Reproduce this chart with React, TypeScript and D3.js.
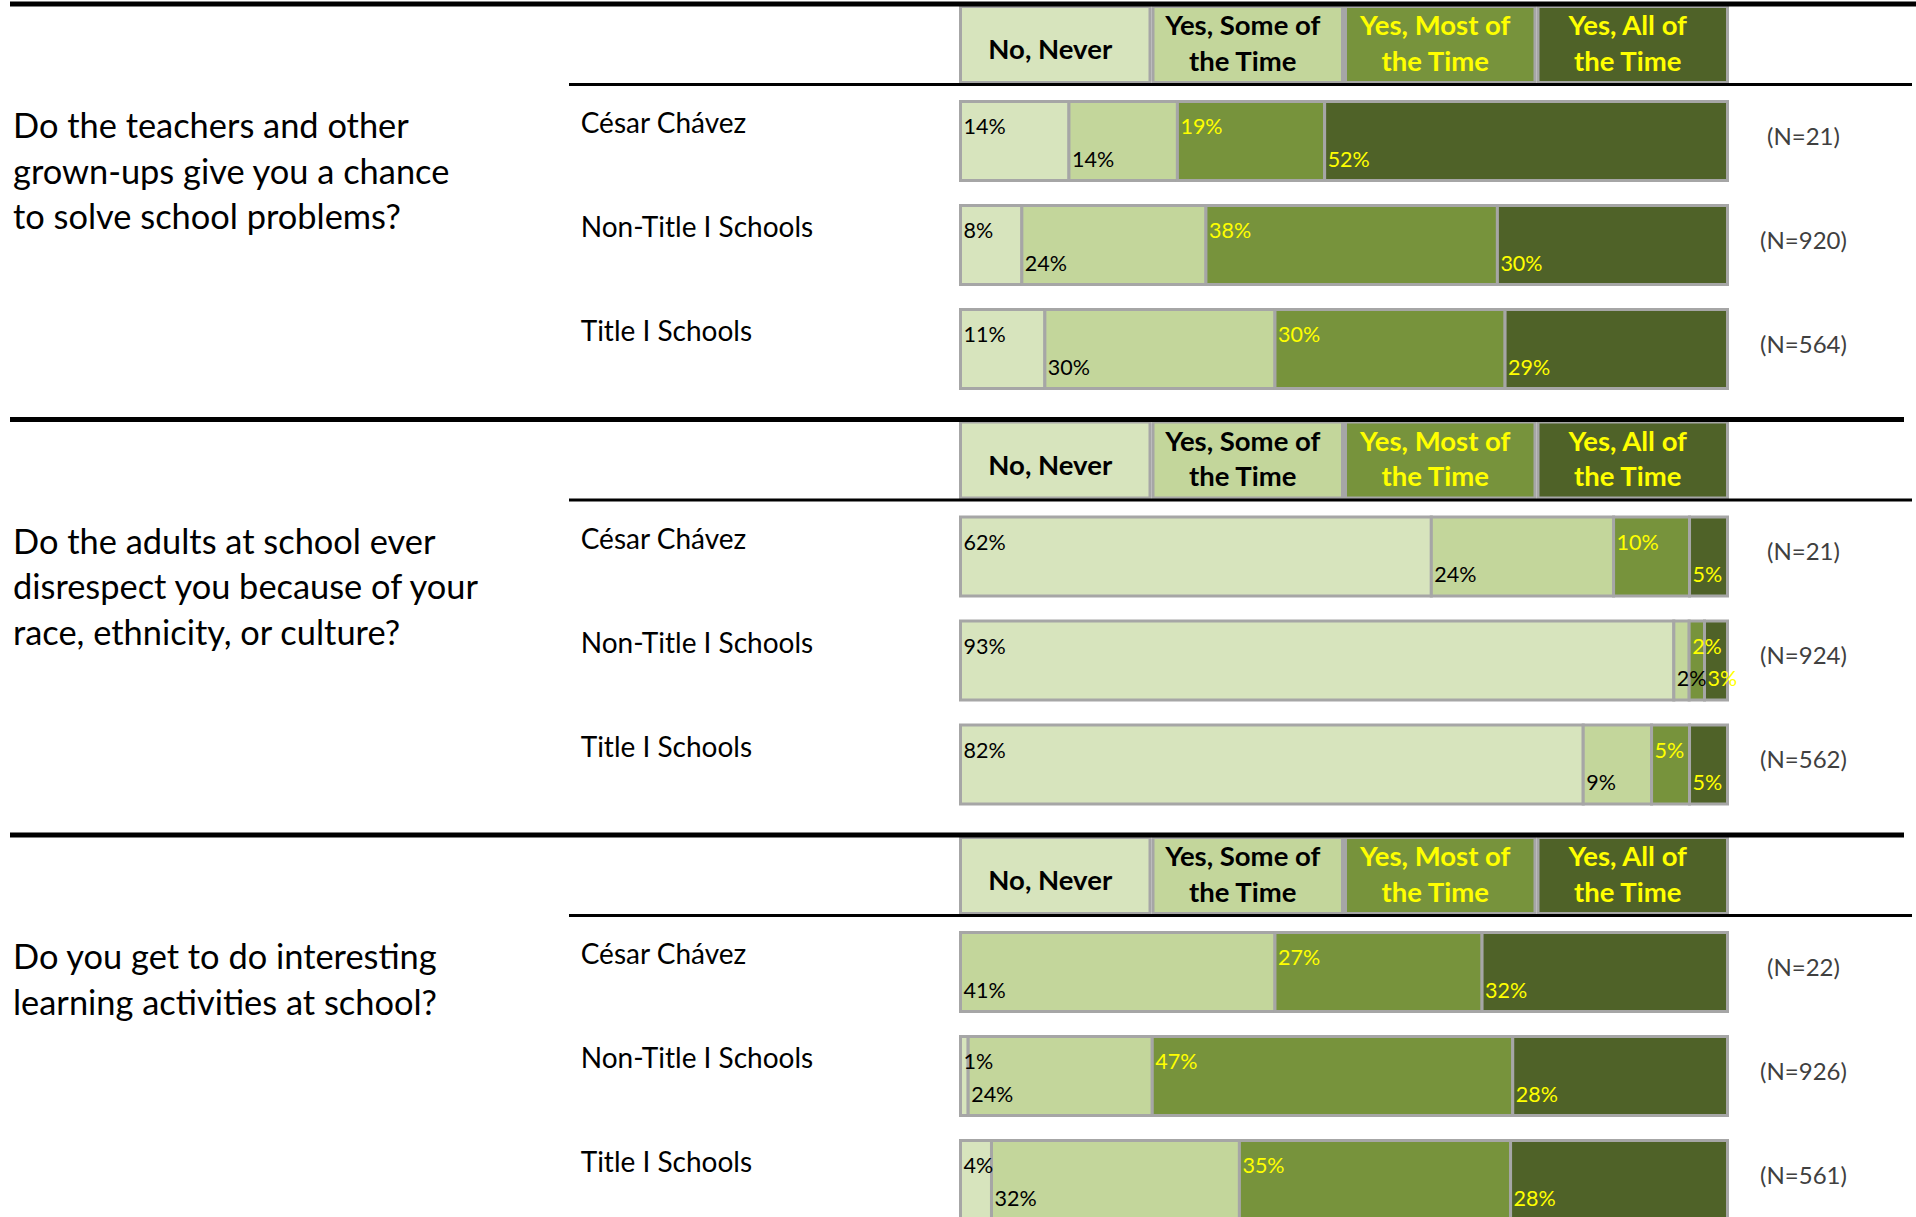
import React from "react";
import * as d3 from "d3";

const categories = ["No, Never", "Yes, Some of the Time", "Yes, Most of the Time", "Yes, All of the Time"];
const headerLines = [["No, Never"], ["Yes, Some of", "the Time"], ["Yes, Most of", "the Time"], ["Yes, All of", "the Time"]];
const groups = ["César Chávez", "Non-Title I Schools", "Title I Schools"];

const questions = [
  ["Do the teachers and other", "grown-ups give you a chance", "to solve school problems?"],
  ["Do the adults at school ever", "disrespect you because of your", "race, ethnicity, or culture?"],
  ["Do you get to do interesting", "learning activities at school?"],
];

const q1Values = [[14, 14, 19, 52], [8, 24, 38, 30], [11, 30, 30, 29]];
const q2Values = [[62, 24, 10, 5], [93, 2, 2, 3], [82, 9, 5, 5]];
const q3Values = [[0, 41, 27, 32], [1, 24, 47, 28], [4, 32, 35, 28]];
const q1N = [21, 920, 564];
const q2N = [21, 924, 562];
const q3N = [22, 926, 561];

const sections = [
  { lines: questions[0], values: q1Values, n: q1N },
  { lines: questions[1], values: q2Values, n: q2N },
  { lines: questions[2], values: q3Values, n: q3N },
];

const fills = ["#d7e4bd", "#c3d69b", "#77933c", "#4f6228"];
const textFills = ["#000000", "#000000", "#ffff00", "#ffff00"];
const gray = "#a6a6a6";
const FONT = "Lato, 'Open Sans', sans-serif";

const W = 1916;
const H = 1217;
const BAR_L = 959;
const BAR_R = 1729;
const SECTION_PITCH = 415.5;
const SECTION_TOP = 4;

export default function App() {
  const band = d3.scaleBand<number>().domain([0, 1, 2, 3]).range([BAR_L, BAR_R]).padding(0);

  return (
    <svg
      width={W}
      height={H}
      viewBox={`0 0 ${W} ${H}`}
      style={{ position: "absolute", left: 0, top: 0, background: "#fff" }}
      fontFamily={FONT}
    >
      <rect x={0} y={0} width={W} height={H} fill="#ffffff" />
      {sections.map((sec, si) => {
        const top = SECTION_TOP + si * SECTION_PITCH;
        return (
          <g key={si}>
            {categories.map((c, ci) => {
              const x0 = band(ci)!;
              const bw = band.bandwidth();
              const cx = x0 + bw / 2 - 5;
              const lines = headerLines[ci];
              return (
                <g key={c}>
                  <rect x={x0 + 1.5} y={top + 2.5} width={bw - 3} height={76} fill={fills[ci]} stroke={gray} strokeWidth={3} />
                  {lines.length === 1 ? (
                    <text x={cx} y={top + 55} textAnchor="middle" fontWeight="bold" fontSize={27.5} fill={textFills[ci]}>
                      {lines[0]}
                    </text>
                  ) : (
                    lines.map((l, li) => (
                      <text key={li} x={cx} y={top + 31 + li * 35.5} textAnchor="middle" fontWeight="bold" fontSize={27.5} fill={textFills[ci]}>
                        {l}
                      </text>
                    ))
                  )}
                </g>
              );
            })}
            <line x1={10} x2={si === 0 ? W : 1904} y1={top} y2={top} stroke="#000" strokeWidth={5} />
            <line x1={569} x2={1912} y1={top + 80.5} y2={top + 80.5} stroke="#000" strokeWidth={3} />
            {sec.lines.map((l, li) => (
              <text key={li} x={13} y={top + 134 + li * 45.5} fontSize={34.4} fill="#000">
                {l}
              </text>
            ))}
            {sec.values.map((vals, ri) => {
              const barTop = top + 96 + ri * 104;
              const total = d3.sum(vals);
              const x = d3.scaleLinear().domain([0, total]).range([BAR_L + 1.5, BAR_R - 1.5]);
              const starts = d3.cumsum([0, ...vals]);
              return (
                <g key={ri}>
                  <text x={580.7} y={barTop + 33} fontSize={28} fill="#000">
                    {groups[ri]}
                  </text>
                  {vals.map((v, vi) =>
                    v > 0 ? (
                      <rect
                        key={vi}
                        x={x(starts[vi])}
                        y={barTop + 1.5}
                        width={x(starts[vi] + v) - x(starts[vi])}
                        height={79}
                        fill={fills[vi]}
                        stroke={gray}
                        strokeWidth={3}
                      />
                    ) : null
                  )}
                  {vals.map((v, vi) =>
                    v > 0 ? (
                      <text
                        key={"t" + vi}
                        x={x(starts[vi]) + 3}
                        y={barTop + (vi % 2 === 0 ? 34 : 66.5)}
                        fontSize={21.5}
                        fill={textFills[vi]}
                      >
                        {v + "%"}
                      </text>
                    ) : null
                  )}
                  <text x={1803.5} y={barTop + 44.5} textAnchor="middle" fontSize={24} fill="#404040">
                    {`(N=${sec.n[ri]})`}
                  </text>
                </g>
              );
            })}
          </g>
        );
      })}
    </svg>
  );
}
